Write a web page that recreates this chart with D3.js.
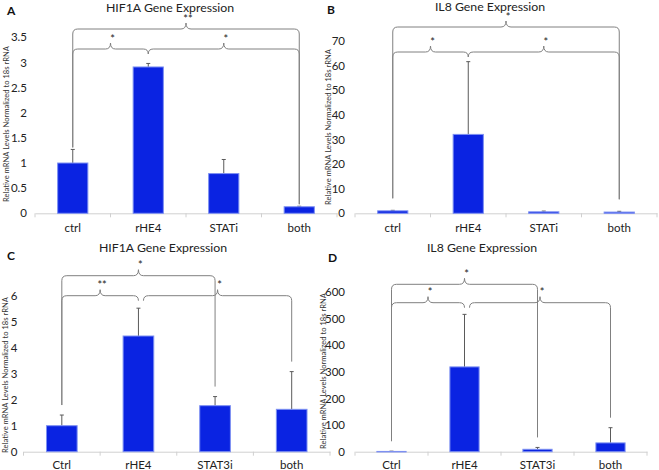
<!DOCTYPE html>
<html><head><meta charset="utf-8">
<script src="https://cdn.jsdelivr.net/npm/d3@7"></script>
<style>body{margin:0;background:#fff}svg{display:block}text{font-family:Lato,"Open Sans",sans-serif}</style>
</head><body><svg id="c" width="659" height="470"></svg>
<script>
// ---- data ----
const categoriesA = ["ctrl", "rHE4", "STATi", "both"];
const valuesA = [1.0, 2.91, 0.79, 0.13];
const errorsA = [0.27, 0.07, 0.28, 0.01];
const ticksA = [0, 0.5, 1, 1.5, 2, 2.5, 3, 3.5];
const bracketsA = [[0, 1, "*", 0], [1, 3, "*", 0], [0, 3, "**", 1]];

const categoriesB = ["ctrl", "rHE4", "STATi", "both"];
const valuesB = [1.0, 32, 0.6, 0.5];
const errorsB = [0.2, 29.5, 0.3, 0.3];
const ticksB = [0, 10, 20, 30, 40, 50, 60, 70];
const bracketsB = [[0, 1, "*", 0], [1, 3, "*", 0], [0, 3, "*", 1]];

const categoriesC = ["Ctrl", "rHE4", "STAT3i", "both"];
const valuesC = [1.0, 4.45, 1.77, 1.63];
const errorsC = [0.41, 1.07, 0.35, 1.45];
const ticksC = [0, 1, 2, 3, 4, 5, 6];
const bracketsC = [[0, 1, "**", 0], [1, 3, "*", 0], [0, 2, "*", 1]];

const categoriesD = ["Ctrl", "rHE4", "STAT3i", "both"];
const valuesD = [1, 318, 9, 33];
const errorsD = [1, 197, 7, 57];
const ticksD = [0, 100, 200, 300, 400, 500, 600];
const bracketsD = [[0, 1, "*", 0], [1, 3, "*", 0], [0, 2, "*", 1]];

const yTitle = "Relative mRNA Levels Normalized to 18s rRNA";

// ---- layout ----
const panels = [
  {label: "A", title: "HIF1A Gene Expression", cats: categoriesA, vals: valuesA, errs: errorsA, ticks: ticksA, brackets: bracketsA,
   axL: 35, axR: 337, y0: 213.3, yTop: 37.3, tickPad: 8, titleX: 170, titleY: 11.5, labX: 7, labY: 15,
   yTitleX: 6, yTitleY: 124, xLabY: 232, braceY: [49, 29], meet: 0, gap: 2},
  {label: "B", title: "IL8 Gene Expression", cats: categoriesB, vals: valuesB, errs: errorsB, ticks: ticksB, brackets: bracketsB,
   axL: 355, axR: 657, y0: 213.3, yTop: 40.7, tickPad: 10, titleX: 490, titleY: 10.5, labX: 327, labY: 14,
   yTitleX: 328, yTitleY: 127, xLabY: 232, braceY: [52, 27], meet: 0, gap: 12},
  {label: "C", title: "HIF1A Gene Expression", cats: categoriesC, vals: valuesC, errs: errorsC, ticks: ticksC, brackets: bracketsC,
   axL: 23.5, axR: 330, y0: 451.7, yTop: 295.7, tickPad: 6, titleX: 163, titleY: 252, labX: 7, labY: 260,
   yTitleX: 5, yTitleY: 375, xLabY: 469, braceY: [295.7, 275.7], meet: 5, gap: 10},
  {label: "D", title: "IL8 Gene Expression", cats: categoriesD, vals: valuesD, errs: errorsD, ticks: ticksD, brackets: bracketsD,
   axL: 355, axR: 647, y0: 451.7, yTop: 291.7, tickPad: 10, titleX: 482, titleY: 251.5, labX: 328, labY: 262,
   yTitleX: 323, yTitleY: 371, xLabY: 469, braceY: [302.7, 284.3], meet: 5, gap: 10}
];

const svg = d3.select("#c");
const barFill = "#0a23e2", barStroke = "#7d90f2", errCol = "#5a5a5a", braceCol = "#808080";

panels.forEach(p => {
  const g = svg.append("g");
  const x = d3.scaleBand().domain(p.cats).range([p.axL, p.axR]).paddingInner(0.6).paddingOuter(0.3);
  const ymax = p.ticks[p.ticks.length - 1];
  const y = d3.scaleLinear().domain([0, ymax]).range([p.y0, p.yTop]);
  const step = x.step();
  const cx = i => x(p.cats[i]) + x.bandwidth() / 2;

  // title & label
  g.append("text").attr("x", p.titleX).attr("y", p.titleY).attr("text-anchor", "middle")
    .attr("font-size", 12.3).attr("fill", "#222").text(p.title);
  g.append("text").attr("x", p.labX).attr("y", p.labY).attr("font-size", 12).attr("font-weight", "bold")
    .attr("fill", "#111").text(p.label);
  g.append("text").attr("transform", `translate(${p.yTitleX + 2.5},${p.yTitleY}) rotate(-90)`)
    .attr("text-anchor", "middle").attr("font-size", 7.6).attr("fill", "#333").text(yTitle);

  // y axis (labels only)
  const ya = g.append("g").attr("transform", `translate(${p.axL},0)`)
    .call(d3.axisLeft(y).tickValues(p.ticks).tickSize(0).tickPadding(p.tickPad).tickFormat(d3.format("")));
  ya.select(".domain").remove();
  ya.selectAll("text").attr("font-size", 11.5).attr("fill", "#222").style("font-family", "Lato, 'Open Sans', sans-serif");

  // x axis
  const xa = g.append("g").attr("transform", `translate(0,${p.y0})`)
    .call(d3.axisBottom(x).tickSize(0).tickPadding(0));
  xa.select(".domain").attr("stroke", "#d0d0d0");
  xa.selectAll("text").remove();
  d3.range(p.cats.length + 1).forEach(k => {
    g.append("line").attr("x1", p.axL + k * step).attr("x2", p.axL + k * step)
      .attr("y1", p.y0).attr("y2", p.y0 + 4).attr("stroke", "#d0d0d0");
  });
  g.selectAll(".xl").data(p.cats).enter().append("text")
    .attr("x", d => x(d) + x.bandwidth() / 2).attr("y", p.xLabY).attr("text-anchor", "middle")
    .attr("font-size", 11.5).attr("fill", "#222").text(d => d);

  // error bars
  p.cats.forEach((c, i) => {
    const xc = cx(i), top = y(p.vals[i] + p.errs[i]);
    g.append("line").attr("x1", xc).attr("x2", xc).attr("y1", y(p.vals[i])).attr("y2", top)
      .attr("stroke", errCol).attr("stroke-width", 1);
    g.append("line").attr("x1", xc - 2).attr("x2", xc + 2).attr("y1", top).attr("y2", top)
      .attr("stroke", errCol).attr("stroke-width", 1);
  });

  // bars
  g.selectAll(".bar").data(p.cats).enter().append("rect")
    .attr("x", d => x(d)).attr("width", x.bandwidth())
    .attr("y", (d, i) => y(p.vals[i])).attr("height", (d, i) => Math.max(0.5, p.y0 - y(p.vals[i])))
    .attr("fill", barFill).attr("stroke", barStroke).attr("stroke-width", 1);

  // brackets (curly braces)
  const r = 5, tipH = 6;
  p.brackets.forEach(([i, j, lab, lvl]) => {
    let x1 = cx(i), x2 = cx(j);
    if (lvl === 0 && i === 1) x1 += p.meet;
    const by = p.braceY[lvl];
    const xm = (x1 + x2) / 2;
    const path = `M${x1},${by + r} Q${x1},${by} ${x1 + r},${by} L${xm - r},${by} Q${xm},${by} ${xm},${by - tipH}` +
      ` Q${xm},${by} ${xm + r},${by} L${x2 - r},${by} Q${x2},${by} ${x2},${by + r}`;
    g.append("path").attr("d", path).attr("fill", "none").attr("stroke", braceCol).attr("stroke-width", 1);
    [i, j].forEach((k, e) => {
      const isMeet = (lvl === 0 && k === 1);
      if (isMeet) return;
      const bottom = y(p.vals[k] + p.errs[k]) - p.gap;
      g.append("line").attr("x1", e === 0 ? x1 : x2).attr("x2", e === 0 ? x1 : x2)
        .attr("y1", by + r).attr("y2", bottom).attr("stroke", braceCol).attr("stroke-width", 1);
    });
    g.append("text").attr("x", xm + 2).attr("y", by - tipH - 0.5).attr("text-anchor", "middle")
      .attr("font-size", 11).attr("fill", "#222").text(lab);
  });
});
</script></body></html>
